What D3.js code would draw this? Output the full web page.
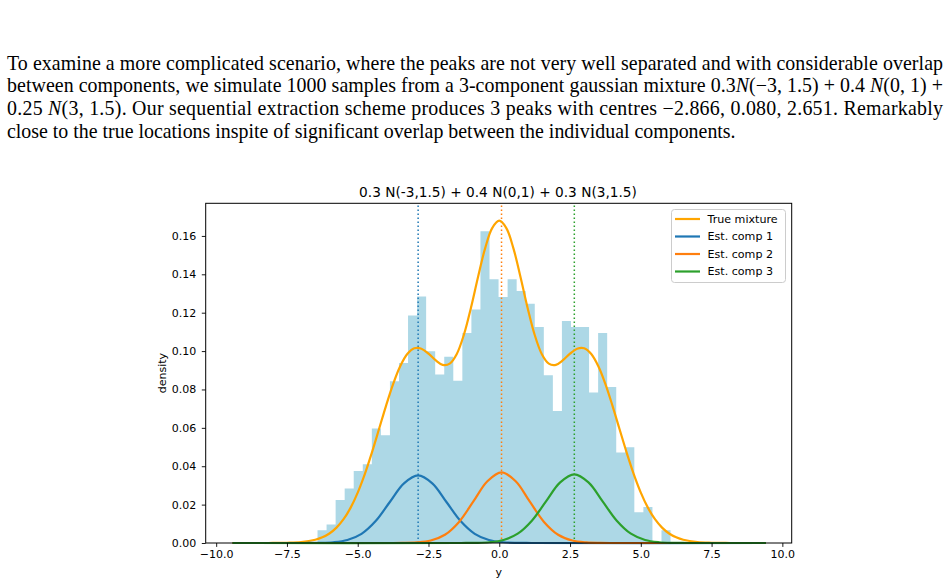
<!DOCTYPE html>
<html><head><meta charset="utf-8">
<script src="https://cdn.jsdelivr.net/npm/d3@7"></script>
<style>body{margin:0;background:#fff;}svg{display:block;}</style>
</head><body>
<svg id="chart" width="952" height="585"></svg>
<script>
// ---------------- data ----------------
const histLo = -6.42, histHi = 6.05;
const histDensity = [0.0066,0.0097,0.0224,0.0284,0.0375,0.0410,0.0597,0.0562,0.0843,0.0938,
  0.1186,0.1284,0.0999,0.0878,0.0971,0.0845,0.1094,0.1217,0.1625,0.1374,
  0.1282,0.1374,0.1313,0.1247,0.1125,0.0874,0.0688,0.1157,0.1125,0.1125,
  0.0784,0.1094,0.0813,0.0472,0.0499,0.0160,0.0187,0,0.0066];

const mixX = [-9.42,-8.5,-8,-7.5,-7,-6.5,-6.25,-6,-5.75,-5.5,-5.25,-5,-4.75,-4.5,-4.25,-4,-3.75,-3.5,-3.25,-3,-2.75,-2.5,-2.25,-2,-1.75,-1.5,-1.25,-1,-0.75,-0.5,-0.25,
  0,0.25,0.5,0.75,1,1.25,1.5,1.75,2,2.25,2.5,2.75,3,3.25,3.5,3.75,4,4.25,4.5,4.75,5,5.25,5.5,5.75,6,6.25,6.5,7,7.5,8,8.5,9.42];
const mixY = [0,0,0.00002,0.00012,0.00048,0.00168,0.00295,0.00496,0.00802,0.01242,0.01844,0.02628,0.03592,0.04711,0.05924,0.07149,0.08279,0.09208,0.09844,0.10146,0.10124,0.09868,0.09523,0.09284,0.09345,0.09851,0.10850,0.12259,0.13862,0.15353,0.16410,
  0.16793,0.16410,0.15353,0.13862,0.12259,0.10850,0.09851,0.09345,0.09284,0.09523,0.09868,0.10124,0.10146,0.09844,0.09208,0.08279,0.07149,0.05924,0.04711,0.03592,0.02628,0.01844,0.01242,0.00802,0.00496,0.00295,0.00168,0.00048,0.00012,0.00002,0,0];

const compCentres = [-2.866, 0.080, 2.651];
const compOffsets = [-4,-3.5,-3,-2.5,-2,-1.5,-1,-0.5,0,0.5,1,1.5,2,2.5,3,3.5,4];
const comp1Y = [0.000012,0.000077,0.000391,0.001547,0.004764,0.01143,0.02135,0.03106,0.0352,0.03106,0.02135,0.01143,0.004764,0.001547,0.000391,0.000077,0.000012];
const comp2Y = [0.000007,0.000051,0.000293,0.001284,0.004296,0.010995,0.02151,0.03218,0.0368,0.03218,0.02151,0.010995,0.004296,0.001284,0.000293,0.000051,0.000007];
const comp3Y = [0.000012,0.000078,0.000398,0.001573,0.004845,0.01162,0.02171,0.03159,0.0358,0.03159,0.02171,0.01162,0.004845,0.001573,0.000398,0.000078,0.000012];
const lineLo = -9.42, lineHi = 9.42;

const xTicks = [-10,-7.5,-5,-2.5,0,2.5,5,7.5,10];
const yTicks = [0,0.02,0.04,0.06,0.08,0.10,0.12,0.14,0.16];
const legendLabels = ["True mixture","Est. comp 1","Est. comp 2","Est. comp 3"];
const titleText = "0.3 N(-3,1.5) + 0.4 N(0,1) + 0.3 N(3,1.5)";
const xLabel = "y", yLabel = "density";

// paragraph: segments [text, italic?]
const paraLines = [
  {segs:[["To examine a more complicated scenario, where the peaks are not very well separated and with considerable overlap",false]], justify:true},
  {segs:[["between components, we simulate 1000 samples from a 3-component gaussian mixture 0.3",false],["N",true],["(−3, 1.5) + 0.4 ",false],["N",true],["(0, 1) +",false]], justify:true},
  {segs:[["0.25 ",false],["N",true],["(3, 1.5). Our sequential extraction scheme produces 3 peaks with centres −2.866,  0.080,  2.651. Remarkably",false]], justify:true},
  {segs:[["close to the true locations inspite of significant overlap between the individual components.",false]], justify:false}
];

// ---------------- drawing ----------------
const svg = d3.select("#chart");
svg.append("rect").attr("width",952).attr("height",585).attr("fill","#fff");

// paragraph
const paraX = 7, paraW = 936, paraBase = [69.5, 92.2, 114.9, 137.6];
paraLines.forEach((ln,i)=>{
  const t = svg.append("text").attr("x",paraX).attr("y",paraBase[i])
    .attr("font-family","'Liberation Serif','Times New Roman',serif")
    .attr("font-size","19.9px").attr("fill","#000");
  if (ln.justify) t.attr("textLength",paraW).attr("lengthAdjust","spacing");
  ln.segs.forEach(s=>{
    const ts = t.append("tspan").text(s[0]);
    if (s[1]) ts.attr("font-style","italic");
  });
});

const L = 205.7, R = 791.7, T = 203.3, B = 543;
const x = d3.scaleLinear().domain([-10.37, 10.33]).range([L, R]);
const y = d3.scaleLinear().domain([0, 0.1770]).range([B, T]);

const font = "'DejaVu Sans', sans-serif";

// histogram as one stepped area (no seams between bars)
const binW = (histHi - histLo) / histDensity.length;
const histPts = [];
histDensity.forEach((d,i)=>{ histPts.push([histLo+i*binW, d]); histPts.push([histLo+(i+1)*binW, d]); });
const histArea = d3.area().x(d=>x(d[0])).y0(y(0)).y1(d=>y(d[1]));
svg.append("path").attr("d",histArea(histPts)).attr("fill","#add8e6");

const colors = ["#1f77b4","#ff7f0e","#2ca02c"];
const mixColor = "#ffa500";

// vertical dotted lines
svg.append("g").selectAll("line").data(compCentres).join("line")
  .attr("x1",d=>x(d)).attr("x2",d=>x(d)).attr("y1",B).attr("y2",T)
  .attr("stroke",(d,i)=>colors[i]).attr("stroke-width",1.5)
  .attr("stroke-dasharray","1.5,2.5");

const line = d3.line().x(d=>x(d[0])).y(d=>y(d[1])).curve(d3.curveCatmullRom.alpha(0.5));
const mixPts = mixX.map((v,i)=>[v,mixY[i]]);
svg.append("path").attr("d",line(mixPts)).attr("fill","none").attr("stroke",mixColor).attr("stroke-width",2.2);

[comp1Y,comp2Y,comp3Y].forEach((arr,k)=>{
  const pts = [[lineLo,0]].concat(compOffsets.map((o,i)=>[compCentres[k]+o, arr[i]])).concat([[lineHi,0]]);
  svg.append("path").attr("d",line(pts)).attr("fill","none").attr("stroke",colors[k]).attr("stroke-width",2.2);
});

// spines
svg.append("rect").attr("x",L).attr("y",T).attr("width",R-L).attr("height",B-T)
  .attr("fill","none").attr("stroke","#000").attr("stroke-width",1);

// axes
const xAxis = svg.append("g").attr("transform",`translate(0,${B})`)
  .call(d3.axisBottom(x).tickValues(xTicks).tickFormat(d3.format(".1f")).tickSize(3.9).tickPadding(3.3));
const yAxis = svg.append("g").attr("transform",`translate(${L},0)`)
  .call(d3.axisLeft(y).tickValues(yTicks).tickFormat(d3.format(".2f")).tickSize(3.9).tickPadding(5.5));
[xAxis,yAxis].forEach(g=>{
  g.select(".domain").remove();
  g.selectAll("text").attr("font-family",font).attr("font-size","11px").attr("fill","#000");
  g.selectAll("line").attr("stroke","#000").attr("stroke-width",0.9);
});

// labels
svg.append("text").attr("x",(L+R)/2).attr("y",576).attr("text-anchor","middle")
  .attr("font-family",font).attr("font-size","11px").text(xLabel);
svg.append("text").attr("transform",`translate(165.5,${(T+B)/2}) rotate(-90)`).attr("text-anchor","middle")
  .attr("font-family",font).attr("font-size","11px").text(yLabel);
svg.append("text").attr("x",498).attr("y",197).attr("text-anchor","middle")
  .attr("font-family",font).attr("font-size","13.7px").text(titleText);

// legend
const lg = svg.append("g");
lg.append("rect").attr("x",671.5).attr("y",209.5).attr("width",114).attr("height",73)
  .attr("rx",3).attr("fill","#fff").attr("fill-opacity",0.8).attr("stroke","#ccc").attr("stroke-width",1);
const legColors = [mixColor].concat(colors);
legendLabels.forEach((lab,i)=>{
  const cy = 219 + i*17.5;
  lg.append("line").attr("x1",675).attr("x2",700).attr("y1",cy).attr("y2",cy)
    .attr("stroke",legColors[i]).attr("stroke-width",2.2);
  lg.append("text").attr("x",707.5).attr("y",cy).attr("dy","0.36em")
    .attr("font-family",font).attr("font-size","11.1px").attr("fill","#000").text(lab);
});
</script>
</body></html>
